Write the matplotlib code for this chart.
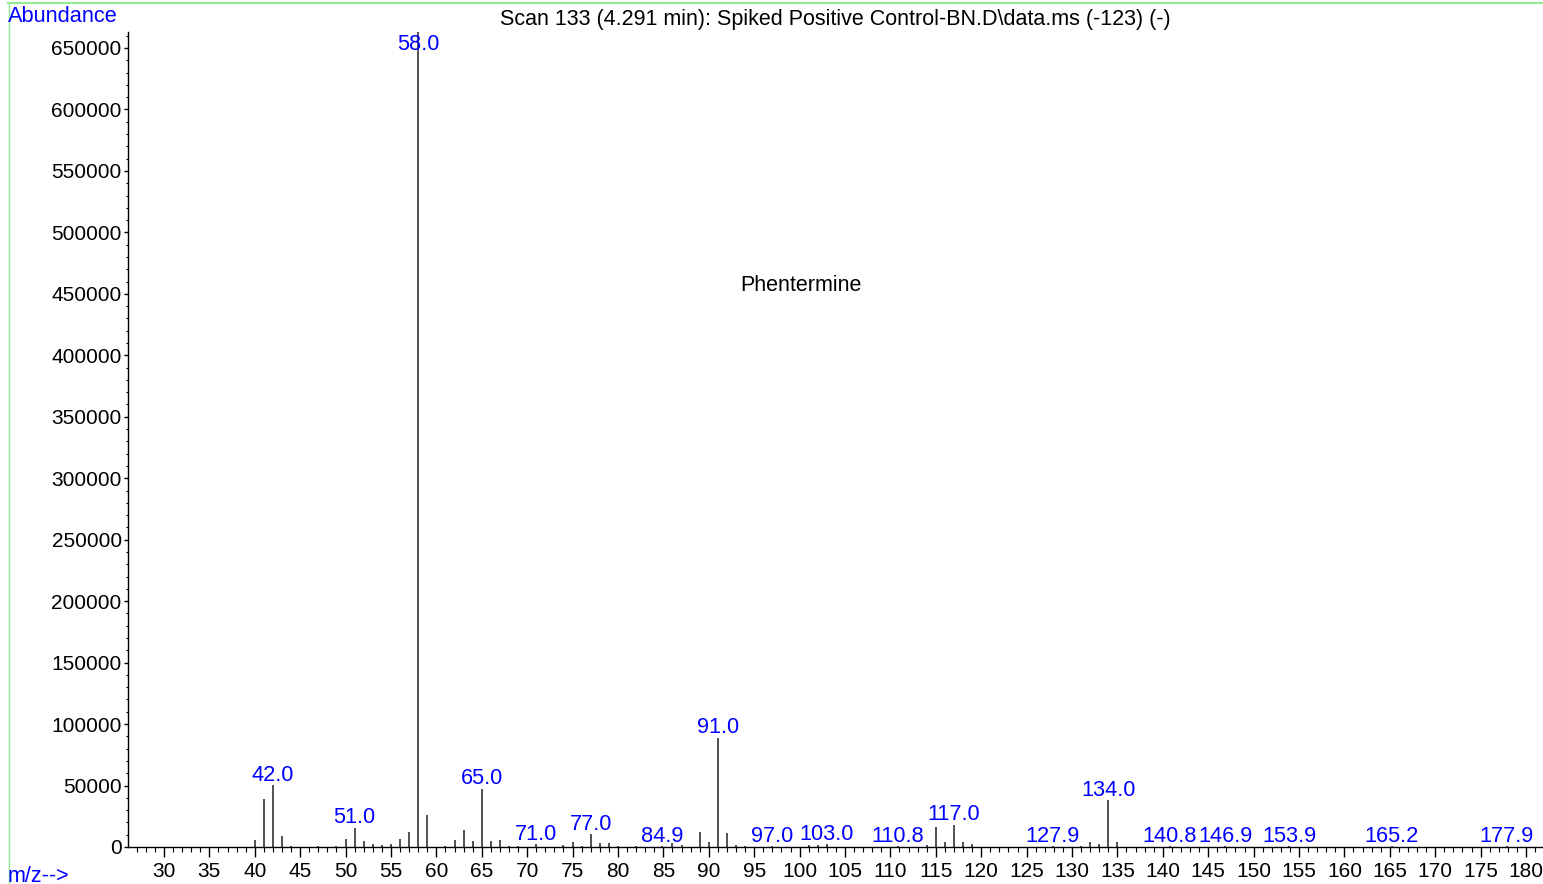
import matplotlib
matplotlib.use("Agg")
import matplotlib.pyplot as plt
from matplotlib.ticker import MultipleLocator
from matplotlib.lines import Line2D

# ---- data ----
mz = [40, 41, 42, 43, 44, 47, 49, 50, 51, 52, 53, 54, 55, 56, 57, 58, 59, 61,
      62, 63, 64, 65, 66, 67, 68, 69, 71, 74, 75, 76, 77, 78, 79, 80, 82, 84.9,
      86, 87, 89, 90, 91, 92, 93, 94, 97, 101, 102, 103, 110.8, 114, 115, 116,
      117, 118, 119, 127.9, 131, 132, 133, 134, 135, 140.8, 146.9, 153.9,
      165.2, 177.9]
abundance = [6000, 39300, 50400, 9000, 800, 800, 800, 6800, 15500, 4600, 2400,
             1400, 2200, 6500, 12000, 663000, 26000, 800, 5400, 14000, 4600,
             47400, 4900, 5400, 800, 600, 2200, 1400, 4000, 1000, 10300, 3600,
             3000, 800, 600, 800, 3400, 1800, 12000, 4400, 88700, 11100, 2000,
             800, 500, 1600, 1800, 2400, 600, 2000, 16300, 4300, 18300, 4400,
             2200, 800, 1200, 3800, 2400, 38000, 3800, 500, 500, 500, 500, 500]
labeled_mz = [42.0, 51.0, 58.0, 65.0, 71.0, 77.0, 84.9, 91.0, 97.0, 103.0,
              110.8, 117.0, 127.9, 134.0, 140.8, 146.9, 153.9, 165.2, 177.9]
title = "Scan 133 (4.291 min): Spiked Positive Control-BN.D\\data.ms (-123) (-)"
compound = "Phentermine"

plt.rcParams['font.family'] = ['Liberation Sans', 'DejaVu Sans']
FS = 15
FL = 15.7
W, H = 1543, 884
fig = plt.figure(figsize=(W / 100, H / 100), dpi=100)

ax_left, ax_right = 128 / W, 1.0
ax_bottom, ax_top = (H - 847) / H, (H - 32) / H
ax = fig.add_axes([ax_left, ax_bottom, ax_right - ax_left, ax_top - ax_bottom])

ymax = 650000 * 815 / 799
ax.set_xlim(26.04, 181.87)
ax.set_ylim(0, ymax)

ax.vlines(mz, 0, abundance, color='#222222', lw=1.1)

lookup = dict(zip(mz, abundance))
px_per_unit = 799 / 650000
off = 4.5 / px_per_unit
clamp = (847 - 50) / px_per_unit
for m in labeled_mz:
    h = lookup.get(m, 0)
    y = min(h + off, clamp)
    ax.text(m, y, f"{m:.1f}", color='#0000ff', fontsize=FL, ha='center',
            va='baseline', clip_on=False)

ax.text(100.15, (847 - 286) / px_per_unit, compound, fontsize=15.5,
        ha='center', va='center', color='black')

for s in ['top', 'right']:
    ax.spines[s].set_visible(False)
for s in ['left', 'bottom']:
    ax.spines[s].set_linewidth(1.0)

ax.xaxis.set_major_locator(MultipleLocator(5))
ax.xaxis.set_minor_locator(MultipleLocator(1))
ax.yaxis.set_major_locator(MultipleLocator(50000))
ax.yaxis.set_minor_locator(MultipleLocator(10000))
ax.tick_params(axis='x', which='major', direction='out', length=7, width=1,
               labelsize=FS, pad=4)
ax.tick_params(axis='x', which='minor', direction='out', length=3.5, width=0.8)
ax.tick_params(axis='y', which='major', direction='out', length=3, width=1,
               labelsize=FS, pad=1.5)
ax.tick_params(axis='y', which='minor', direction='out', length=1.5, width=0.8)
ax.set_yticks(range(0, 650001, 50000))
ax.set_yticklabels([str(v) for v in range(0, 650001, 50000)])

fig.text(835 / W, 1 - 19 / H, title, fontsize=15.5, ha='center', va='center')
fig.text(8 / W, 1 - 17 / H, "Abundance", fontsize=FL, ha='left',
         va='center', color='#0000ff')
fig.text(8 / W, 1 - 876 / H, "m/z-->", fontsize=15.5, ha='left',
         va='center', color='#0000ff')

green = '#90ee90'
fig.add_artist(Line2D([8 / W, 1.0], [1 - 3 / H, 1 - 3 / H], color=green, lw=1.5,
                      transform=fig.transFigure))
fig.add_artist(Line2D([8.5 / W, 8.5 / W], [0, 1 - 3 / H], color=green, lw=1.0,
                      transform=fig.transFigure))

fig.savefig("out.png", dpi=100)
